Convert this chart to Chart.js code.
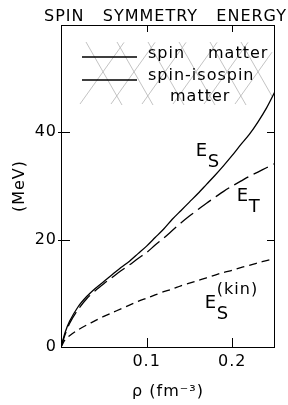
<!DOCTYPE html>
<html>
<head>
<meta charset="utf-8">
<script src="https://cdn.jsdelivr.net/npm/chart.js@4.4.1/dist/chart.umd.min.js"></script>
<style>
  html, body { margin: 0; padding: 0; background: #fff; }
  #wrap { width: 288px; height: 405px; }
</style>
</head>
<body>
<div id="wrap"><canvas id="myChart" width="288" height="405"></canvas></div>
<script>
// density grid (fm^-3) and the three curves (MeV)
const rho = [0, 0.005, 0.01, 0.02, 0.03, 0.04, 0.05, 0.06, 0.07, 0.08, 0.09, 0.10, 0.11, 0.12, 0.13,
  0.14, 0.15, 0.16, 0.17, 0.18, 0.19, 0.20, 0.21, 0.22, 0.23, 0.24, 0.25];
const eSpin = [0, 2.8, 4.8, 7.5, 9.4, 10.9, 12.2, 13.5, 14.8, 16.0, 17.4, 18.8, 20.4, 22.0, 23.8,
  25.4, 27.0, 28.6, 30.3, 32.0, 33.8, 35.7, 37.7, 39.6, 41.9, 44.5, 47.6];
const eIso = [0, 2.4, 4.4, 7.0, 9.0, 10.5, 11.8, 13.0, 14.2, 15.3, 16.5, 17.6, 19.0, 20.3, 21.7,
  23.1, 24.4, 25.6, 26.8, 27.9, 29.0, 30.0, 30.9, 31.8, 32.6, 33.4, 34.2];
const eKin = [0, 1.4, 2.1, 3.2, 4.1, 4.9, 5.7, 6.4, 7.1, 7.8, 8.5, 9.1, 9.7, 10.3, 10.8,
  11.4, 11.9, 12.4, 12.9, 13.4, 13.9, 14.3, 14.8, 15.2, 15.7, 16.1, 16.5];

const xTicks = [0.1, 0.2];
const yTicks = [0, 20, 40];

const titleText = "SPIN   SYMMETRY   ENERGY";

// curve labels, anchored in data units (left edge / baseline of the "E")
const curveLabels = [
  { sub: "S", sup: "", rho: 0.1575, e: 35.6 },
  { sub: "T", sup: "", rho: 0.2054, e: 27.2 },
  { sub: "S", sup: "(kin)", rho: 0.168, e: 7.2 },
];

const FONT = "'DejaVu Sans', sans-serif";

function pts(ys) {
  return rho.map((r, i) => ({ x: r, y: ys[i] }));
}

// letter spacing for all text, like the old plotter lettering
const spacing = {
  id: "spacing",
  beforeDraw(chart) { chart.ctx.letterSpacing = "1px"; },
  afterDraw(chart) { chart.ctx.letterSpacing = "0px"; },
};

// frame, inward ticks, legend, title and curve labels
const decor = {
  id: "decor",
  beforeDatasetsDraw(chart) {
    const { ctx, chartArea: a, scales: { x, y } } = chart;
    ctx.save();
    ctx.strokeStyle = "#000";
    ctx.lineWidth = 1;
    ctx.strokeRect(a.left + 0.5, a.top + 0.5, a.right - a.left - 1, a.bottom - a.top);

    ctx.beginPath();
    xTicks.forEach((v) => {
      const px = Math.round(x.getPixelForValue(v)) + 0.5;
      ctx.moveTo(px, a.bottom); ctx.lineTo(px, a.bottom - 9);
      ctx.moveTo(px, a.top); ctx.lineTo(px, a.top + 7);
    });
    yTicks.filter((v) => v > 0).forEach((v) => {
      const py = Math.round(y.getPixelForValue(v)) + 0.5;
      ctx.moveTo(a.left - 3, py); ctx.lineTo(a.left + 9, py);
      ctx.moveTo(a.right, py); ctx.lineTo(a.right - 8, py);
    });
    ctx.stroke();

    // scratched-out legend hatching
    ctx.strokeStyle = "#b4b4b4";
    ctx.lineWidth = 0.8;
    ctx.beginPath();
    for (let k = 0; k < 6; k++) {
      const x0 = 86 + k * 31;
      const e0 = Math.min(x0 + 36, 272);
      ctx.moveTo(x0, 42); ctx.lineTo(e0, 42 + (e0 - x0) * 1.75);
      const x1 = 80 + k * 31;
      const e1 = Math.min(x1 + 44, 272);
      ctx.moveTo(x1, 104); ctx.lineTo(e1, 104 - (e1 - x1) * 1.4);
    }
    ctx.stroke();
    ctx.restore();
  },
  afterDatasetsDraw(chart) {
    const { ctx, scales: { x, y } } = chart;
    ctx.save();
    ctx.letterSpacing = "1px";
    ctx.fillStyle = "#000";
    ctx.strokeStyle = "#000";
    ctx.lineWidth = 1.3;

    // title
    ctx.font = "16px " + FONT;
    ctx.textBaseline = "alphabetic";
    ctx.textAlign = "left";
    ctx.fillText(titleText, 44, 21);

    // legend
    ctx.beginPath();
    ctx.moveTo(82, 57); ctx.lineTo(137, 57);
    ctx.moveTo(82, 80); ctx.lineTo(137, 80);
    ctx.stroke();
    ctx.fillText("spin", 148, 58);
    ctx.fillText("matter", 208, 58);
    ctx.fillText("spin-isospin", 148, 80);
    ctx.fillText("matter", 170, 101);

    // E labels
    curveLabels.forEach((l) => {
      const px = x.getPixelForValue(l.rho);
      const py = y.getPixelForValue(l.e);
      ctx.font = "18px " + FONT;
      ctx.fillText("E", px, py);
      ctx.fillText(l.sub, px + 12, py + 11);
      if (l.sup) {
        ctx.font = "16px " + FONT;
        ctx.fillText(l.sup, px + 12, py - 14);
      }
    });
    ctx.restore();
  },
};

const ctx = document.getElementById("myChart").getContext("2d");
const myChart = new Chart(ctx, {
  type: "line",
  data: {
    datasets: [
      { label: "E_S", data: pts(eSpin), borderColor: "#000", borderWidth: 1.3 },
      { label: "E_T", data: pts(eIso), borderColor: "#000", borderWidth: 1.3, borderDash: [16, 6] },
      { label: "E_S(kin)", data: pts(eKin), borderColor: "#000", borderWidth: 1.3, borderDash: [8, 5] },
    ],
  },
  options: {
    responsive: false,
    animation: false,
    layout: { padding: { top: 25, right: 13 } },
    elements: {
      point: { radius: 0 },
      line: { tension: 0.3, fill: false },
    },
    plugins: {
      legend: { display: false },
      tooltip: { enabled: false },
      title: { display: false },
    },
    scales: {
      x: {
        type: "linear",
        min: 0,
        max: 0.25,
        afterBuildTicks: (s) => { s.ticks = xTicks.map((v) => ({ value: v })); },
        afterFit: (s) => { s.height = 58; },
        grid: { display: false, drawTicks: false },
        border: { display: false },
        ticks: { color: "#000", padding: 5, maxRotation: 0, font: { family: FONT, size: 16 } },
        title: {
          display: true,
          text: "ρ (fm⁻³)",
          color: "#000",
          font: { family: FONT, size: 16 },
          padding: { top: 0, bottom: 4 },
        },
      },
      y: {
        min: 0,
        max: 60,
        afterBuildTicks: (s) => { s.ticks = yTicks.map((v) => ({ value: v })); },
        afterFit: (s) => { s.width = 61; },
        grid: { display: false, drawTicks: false },
        border: { display: false },
        ticks: { color: "#000", padding: 4, font: { family: FONT, size: 16 } },
        title: {
          display: true,
          text: "(MeV)",
          color: "#000",
          font: { family: FONT, size: 16 },
          padding: { top: 10, bottom: 0 },
        },
      },
    },
  },
  plugins: [spacing, decor],
});
</script>
</body>
</html>
